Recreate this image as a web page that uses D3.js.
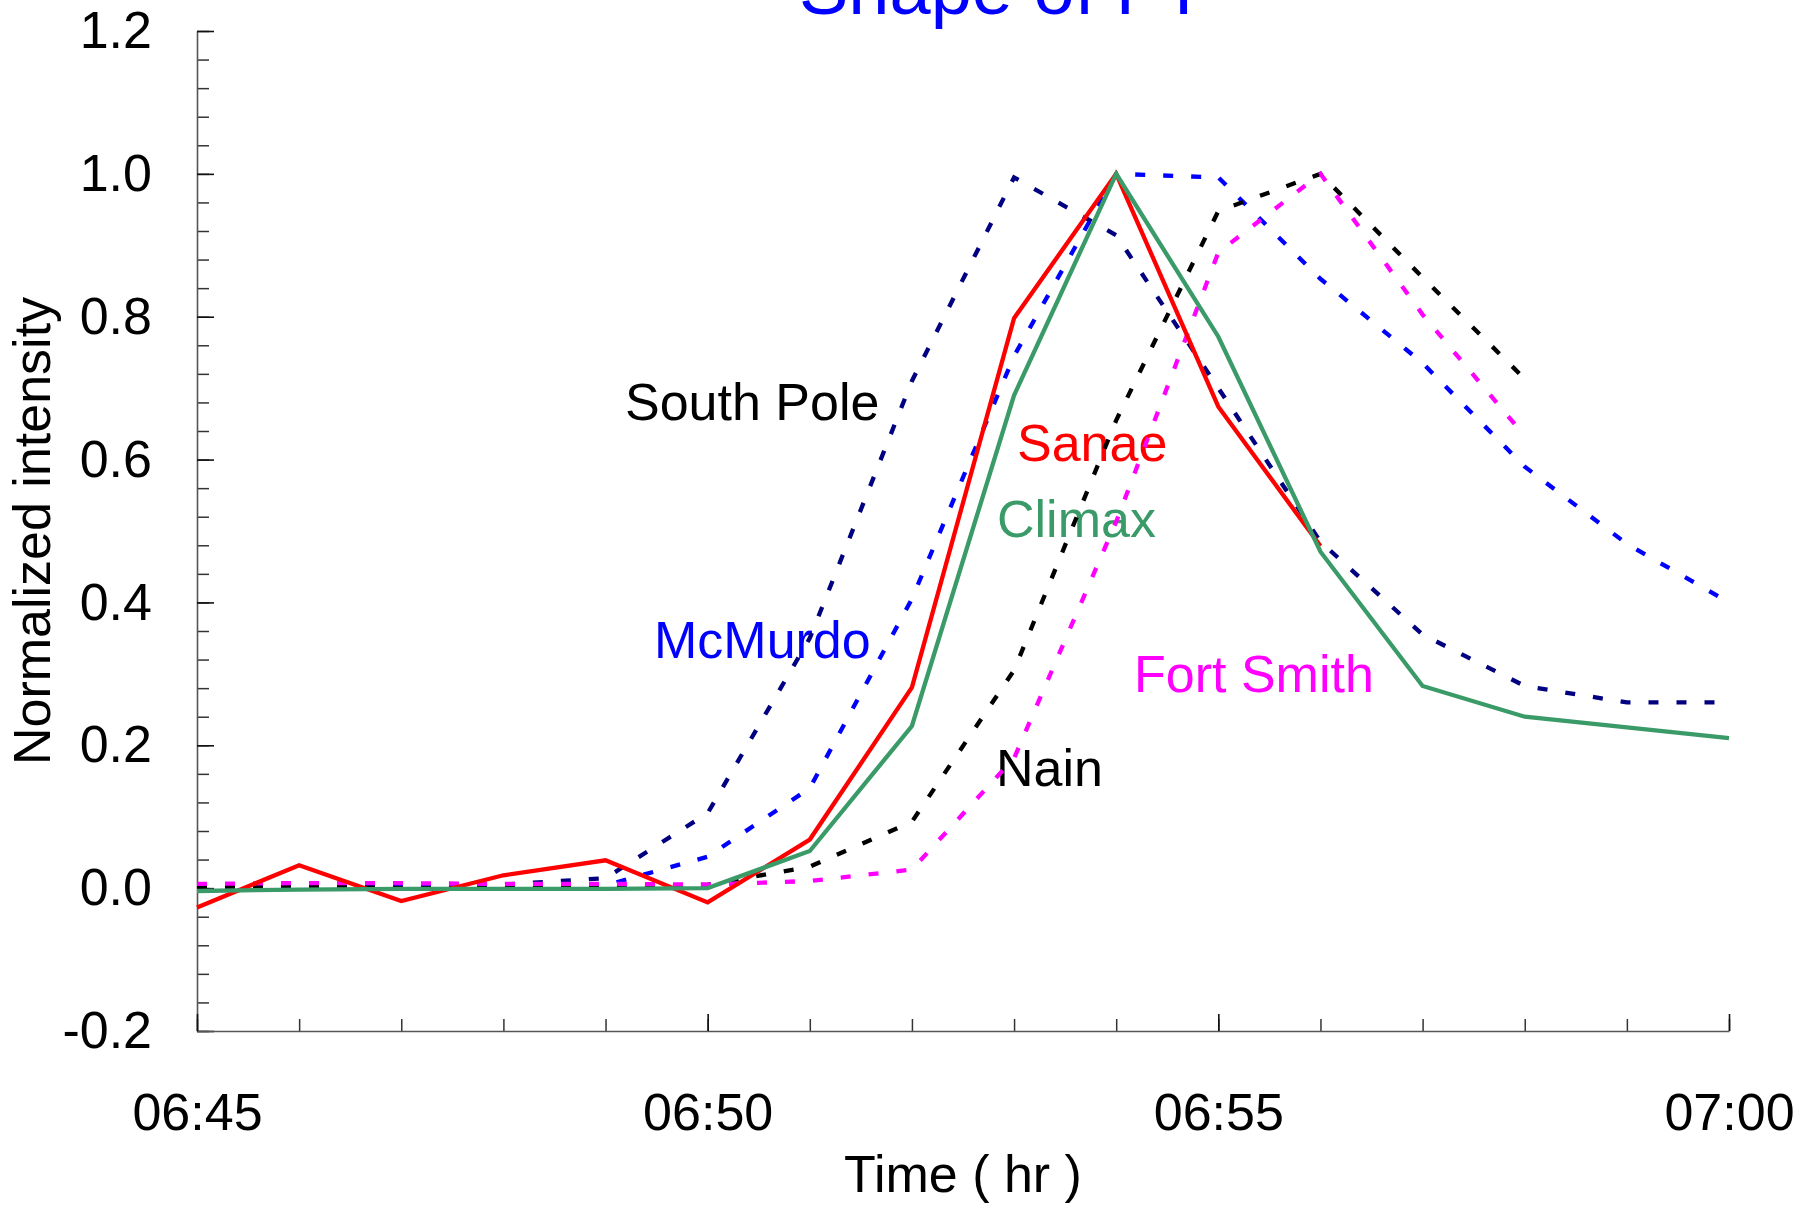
<!DOCTYPE html>
<html>
<head>
<meta charset="utf-8">
<script src="https://cdn.jsdelivr.net/npm/d3@7"></script>
<style>
  html, body { margin: 0; padding: 0; background: #fff; }
  svg { display: block; }
  text { font-family: "Liberation Sans", Arial, sans-serif; }
</style>
</head>
<body>
<svg id="chart" width="1798" height="1206"></svg>
<script>
// ---- data (minutes after 06:45) ----
const minutes = [0,1,2,3,4,5,6,7,8,9,10,11,12,13,14,15];
const xTickValues = [0,5,10,15];
const xTickLabels = ["06:45","06:50","06:55","07:00"];
const yTickValues = [-0.2,0.0,0.2,0.4,0.6,0.8,1.0,1.2];

const southPole = [0.003,0.003,0.002,0.005,0.014,0.105,0.35,0.71,0.995,0.914,0.70,0.485,0.355,0.283,0.26,0.26];
const mcMurdo   = [0.002,0.002,0.002,0.002,0.004,0.044,0.14,0.405,0.745,1.0,0.995,0.853,0.735,0.59,0.482,0.40];
const nain      = [0.001,0.003,0.0,0.0,0.0,0.005,0.03,0.093,0.305,0.655,0.948,1.0,0.855,0.713];
const fortSmith = [0.006,0.007,0.007,0.006,0.006,0.005,0.010,0.026,0.182,0.513,0.89,1.0,0.803,0.633];
const sanae     = [-0.027,0.032,-0.018,0.018,0.039,-0.020,0.068,0.281,0.798,1.0,0.674,0.479];
const climax    = [-0.004,-0.002,-0.001,-0.001,-0.001,0.0,0.052,0.227,0.69,1.0,0.772,0.471,0.283,0.240,0.225,0.210];

const seriesNames  = ["South Pole","McMurdo","Nain","Fort Smith","Sanae","Climax"];
const seriesValues = [southPole, mcMurdo, nain, fortSmith, sanae, climax];
const seriesColors = ["#000080","#0000ff","#000000","#ff00ff","#ff0000","#3a9a68"];
const labelColors  = ["#000000","#0000ff","#000000","#ff00ff","#ff0000","#3a9a68"];
const seriesDashed = [true,true,true,true,false,false];

const titleText = "Shape of FT";
const xTitle = "Time ( hr )";
const yTitle = "Normalized intensity";

// ---- layout ----
const svg = d3.select("#chart");
const pL = 197, pR = 1729, pT = 31, pB = 1031;
const x = d3.scaleLinear().domain([0,15]).range([pL,pR]);
const y = d3.scaleLinear().domain([-0.2,1.2]).range([pB,pT]);
const FS = 52;

// title (cropped at top, as in the original)
svg.append("text").attr("x",799).attr("y",14)
  .attr("fill","#0000ff").attr("font-size",74).text(titleText);

// minor y ticks
const yMinor = d3.range(0,36).map(i=>+(-0.2+i*0.04).toFixed(2));
svg.append("g").attr("transform",`translate(${pL},0)`)
  .call(d3.axisLeft(y).tickValues(yMinor).tickSizeInner(-12).tickSizeOuter(0).tickFormat(""))
  .call(g=>g.select(".domain").remove())
  .call(g=>g.selectAll("line").attr("stroke","#333").attr("stroke-width",1.5));

// major y axis
const gy = svg.append("g").attr("transform",`translate(${pL},0)`)
  .call(d3.axisLeft(y).tickValues(yTickValues).tickSizeInner(-17).tickSizeOuter(0).tickPadding(45)
    .tickFormat(d3.format(".1f")));
gy.select(".domain").attr("stroke","#555").attr("stroke-width",1.6);
gy.selectAll(".tick line").attr("stroke","#111").attr("stroke-width",1.6);
gy.selectAll(".tick text").attr("font-size",FS).attr("fill","#000")
  .attr("font-family","'Liberation Sans', Arial, sans-serif")
  .text(d => d3.format(".1f")(d).replace("\u2212","-"));

// minor x ticks
svg.append("g").attr("transform",`translate(0,${pB})`)
  .call(d3.axisBottom(x).tickValues(minutes).tickSizeInner(-12).tickSizeOuter(0).tickFormat(""))
  .call(g=>g.select(".domain").remove())
  .call(g=>g.selectAll("line").attr("stroke","#333").attr("stroke-width",1.5));

// major x axis
const gx = svg.append("g").attr("transform",`translate(0,${pB})`)
  .call(d3.axisBottom(x).tickValues(xTickValues).tickSizeInner(-17).tickSizeOuter(0)
    .tickFormat((d,i)=>xTickLabels[i]));
gx.select(".domain").attr("stroke","#555").attr("stroke-width",1.6);
gx.selectAll(".tick line").attr("stroke","#111").attr("stroke-width",1.6);
gx.selectAll(".tick text").attr("font-size",FS).attr("fill","#000")
  .attr("font-family","'Liberation Sans', Arial, sans-serif")
  .attr("y",99).attr("dy",0);

// axis titles
svg.append("text").attr("x",(pL+pR)/2).attr("y",1192).attr("text-anchor","middle")
  .attr("font-size",FS).attr("fill","#000").text(xTitle);
svg.append("text").attr("transform",`translate(50,${(pT+pB)/2}) rotate(-90)`)
  .attr("text-anchor","middle").attr("font-size",FS).attr("fill","#000").text(yTitle);

// station labels (drawn beneath the lines)
const labelPos = {
  "South Pole":[625,420], "McMurdo":[654,658], "Sanae":[1017,461],
  "Climax":[997,537], "Fort Smith":[1134,692], "Nain":[996,786]
};
seriesNames.forEach((n,i)=>{
  svg.append("text").attr("x",labelPos[n][0]).attr("y",labelPos[n][1])
    .attr("font-size",FS).attr("fill",labelColors[i]).text(n);
});

// lines
const line = d3.line().x((d,i)=>x(minutes[i])).y(d=>y(d));
seriesValues.forEach((vals,i)=>{
  svg.append("path").datum(vals)
    .attr("d",line)
    .attr("fill","none")
    .attr("stroke",seriesColors[i])
    .attr("stroke-width",4.3)
    .attr("stroke-linejoin","miter")
    .attr("stroke-dasharray",seriesDashed[i] ? "10,18" : null);
});
</script>
</body>
</html>
